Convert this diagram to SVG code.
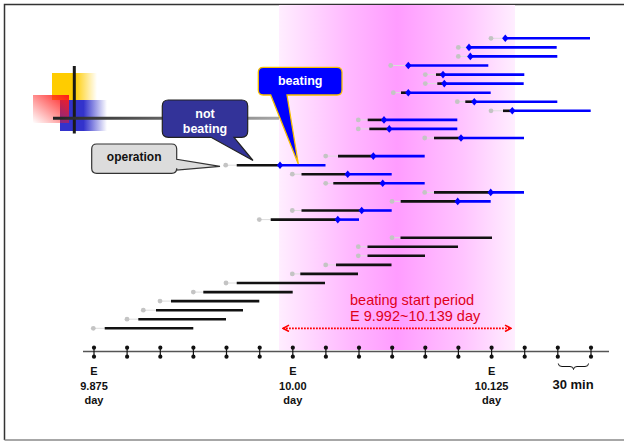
<svg xmlns="http://www.w3.org/2000/svg" xmlns:xlink="http://www.w3.org/1999/xlink" width="624" height="441" viewBox="0 0 624 441">
  <style>
    .lead { stroke: #dcdcdc; stroke-width: 1; fill: none; }
    .pre { stroke: #111; stroke-width: 2.6; fill: none; }
    .post { stroke: #0000ff; stroke-width: 2.6; fill: none; }
    .start { fill: #c4c4c4; }
    .tick { stroke: #111; stroke-width: 1.2; }
    .tickdot { fill: #111; }
    .lbl { font-family: "Liberation Sans", Arial, sans-serif; font-weight: bold; font-size: 11px; fill: #111; text-anchor: middle; }
    .call { font-family: "Liberation Sans", Arial, sans-serif; font-weight: bold; text-anchor: middle; }
    .note { font-family: "Liberation Sans", Arial, sans-serif; font-size: 14.5px; fill: #e0001a; }
  </style>
  <defs>
    <linearGradient id="band" gradientUnits="userSpaceOnUse" x1="279" y1="0" x2="515" y2="0">
      <stop offset="0" stop-color="#ffeeff"/>
      <stop offset="0.3" stop-color="#ffb8ff"/>
      <stop offset="0.5" stop-color="#ff9cff"/>
      <stop offset="0.78" stop-color="#ffc4ff"/>
      <stop offset="1" stop-color="#ffeeff"/>
    </linearGradient>
    <linearGradient id="yel" x1="0" y1="0" x2="1" y2="0">
      <stop offset="0.5" stop-color="#ffcc00"/>
      <stop offset="1" stop-color="#ffcc00" stop-opacity="0"/>
    </linearGradient>
    <linearGradient id="blu" x1="0" y1="0" x2="1" y2="0">
      <stop offset="0.5" stop-color="#3333cc"/>
      <stop offset="1" stop-color="#3333cc" stop-opacity="0"/>
    </linearGradient>
    <linearGradient id="redg" x1="1" y1="0" x2="0" y2="1">
      <stop offset="0" stop-color="#ff1a1a"/>
      <stop offset="1" stop-color="#ff1a1a" stop-opacity="0"/>
    </linearGradient>
    <linearGradient id="bar" gradientUnits="userSpaceOnUse" x1="53" y1="0" x2="279" y2="0">
      <stop offset="0" stop-color="#222"/>
      <stop offset="1" stop-color="#a8a8a8"/>
    </linearGradient>
    <path id="dia" d="M0,-3.8 L3.2,0 L0,3.8 L-3.2,0 Z" fill="#0000ff"/>
    <marker id="chev" viewBox="0 0 8 8" refX="7" refY="4" markerWidth="8" markerHeight="8" markerUnits="userSpaceOnUse" orient="auto-start-reverse">
      <path d="M1,0.8 L7,4 L1,7.2" fill="none" stroke="#ff0000" stroke-width="1.6"/>
    </marker>
  </defs>

  <!-- slide frame -->
  <g id="frame">
    <rect x="0" y="0" width="624" height="441" fill="#fff"/>
    <path d="M4.5,440 V4.5 H624" fill="none" stroke="#333" stroke-width="1.5"/>
    <path d="M4.5,440 H624" fill="none" stroke="#8a8a8a" stroke-width="1.5"/>
  </g>

  <!-- beating start period band -->
  <rect id="band-area" x="279" y="5" width="236" height="345" fill="url(#band)"/>

  <!-- corner ornament -->
  <g id="ornament">
    <rect x="52" y="73" width="45" height="27" fill="url(#yel)"/>
    <rect x="60" y="100" width="47" height="31" fill="url(#blu)"/>
    <rect x="33" y="95" width="36" height="28" fill="url(#redg)"/>
    <line x1="74.3" y1="66" x2="74.3" y2="133.5" stroke="#1a1a1a" stroke-width="3"/>
    <line x1="53" y1="118.3" x2="279" y2="118.3" stroke="url(#bar)" stroke-width="3"/>
  </g>

  <!-- time axis -->
  <g id="axis">
    <line x1="83" y1="351.5" x2="609" y2="351.5" stroke="#555" stroke-width="1.6"/>
    <g id="ticks">
      <g><line class="tick" x1="94" y1="347.7" x2="94" y2="356.7"/><circle class="tickdot" cx="94" cy="347.7" r="2.1"/><circle class="tickdot" cx="94" cy="356.7" r="2.1"/></g>
      <g><line class="tick" x1="127.1" y1="347.7" x2="127.1" y2="356.7"/><circle class="tickdot" cx="127.1" cy="347.7" r="2.1"/><circle class="tickdot" cx="127.1" cy="356.7" r="2.1"/></g>
      <g><line class="tick" x1="160.3" y1="347.7" x2="160.3" y2="356.7"/><circle class="tickdot" cx="160.3" cy="347.7" r="2.1"/><circle class="tickdot" cx="160.3" cy="356.7" r="2.1"/></g>
      <g><line class="tick" x1="193.4" y1="347.7" x2="193.4" y2="356.7"/><circle class="tickdot" cx="193.4" cy="347.7" r="2.1"/><circle class="tickdot" cx="193.4" cy="356.7" r="2.1"/></g>
      <g><line class="tick" x1="226.5" y1="347.7" x2="226.5" y2="356.7"/><circle class="tickdot" cx="226.5" cy="347.7" r="2.1"/><circle class="tickdot" cx="226.5" cy="356.7" r="2.1"/></g>
      <g><line class="tick" x1="259.7" y1="347.7" x2="259.7" y2="356.7"/><circle class="tickdot" cx="259.7" cy="347.7" r="2.1"/><circle class="tickdot" cx="259.7" cy="356.7" r="2.1"/></g>
      <g><line class="tick" x1="292.8" y1="347.7" x2="292.8" y2="356.7"/><circle class="tickdot" cx="292.8" cy="347.7" r="2.1"/><circle class="tickdot" cx="292.8" cy="356.7" r="2.1"/></g>
      <g><line class="tick" x1="325.9" y1="347.7" x2="325.9" y2="356.7"/><circle class="tickdot" cx="325.9" cy="347.7" r="2.1"/><circle class="tickdot" cx="325.9" cy="356.7" r="2.1"/></g>
      <g><line class="tick" x1="359" y1="347.7" x2="359" y2="356.7"/><circle class="tickdot" cx="359" cy="347.7" r="2.1"/><circle class="tickdot" cx="359" cy="356.7" r="2.1"/></g>
      <g><line class="tick" x1="392.2" y1="347.7" x2="392.2" y2="356.7"/><circle class="tickdot" cx="392.2" cy="347.7" r="2.1"/><circle class="tickdot" cx="392.2" cy="356.7" r="2.1"/></g>
      <g><line class="tick" x1="425.3" y1="347.7" x2="425.3" y2="356.7"/><circle class="tickdot" cx="425.3" cy="347.7" r="2.1"/><circle class="tickdot" cx="425.3" cy="356.7" r="2.1"/></g>
      <g><line class="tick" x1="458.4" y1="347.7" x2="458.4" y2="356.7"/><circle class="tickdot" cx="458.4" cy="347.7" r="2.1"/><circle class="tickdot" cx="458.4" cy="356.7" r="2.1"/></g>
      <g><line class="tick" x1="491.6" y1="347.7" x2="491.6" y2="356.7"/><circle class="tickdot" cx="491.6" cy="347.7" r="2.1"/><circle class="tickdot" cx="491.6" cy="356.7" r="2.1"/></g>
      <g><line class="tick" x1="524.7" y1="347.7" x2="524.7" y2="356.7"/><circle class="tickdot" cx="524.7" cy="347.7" r="2.1"/><circle class="tickdot" cx="524.7" cy="356.7" r="2.1"/></g>
      <g><line class="tick" x1="557.8" y1="347.7" x2="557.8" y2="356.7"/><circle class="tickdot" cx="557.8" cy="347.7" r="2.1"/><circle class="tickdot" cx="557.8" cy="356.7" r="2.1"/></g>
      <g><line class="tick" x1="591" y1="347.7" x2="591" y2="356.7"/><circle class="tickdot" cx="591" cy="347.7" r="2.1"/><circle class="tickdot" cx="591" cy="356.7" r="2.1"/></g>
    </g>
    <text class="lbl" x="94" y="375"><tspan x="94">E</tspan><tspan x="94" dy="15">9.875</tspan><tspan x="94" dy="14">day</tspan></text>
    <text class="lbl" x="292.8" y="375"><tspan x="292.8">E</tspan><tspan x="292.8" dy="15">10.00</tspan><tspan x="292.8" dy="14">day</tspan></text>
    <text class="lbl" x="491.6" y="375"><tspan x="491.6">E</tspan><tspan x="491.6" dy="15">10.125</tspan><tspan x="491.6" dy="14">day</tspan></text>
    <path d="M558.3,363.5 Q558.3,366.5 562,366.5 L570,366.5 Q573.5,366.5 573.5,369.5 Q573.5,366.5 577,366.5 L585,366.5 Q588.5,366.5 588.5,363.5" fill="none" stroke="#111" stroke-width="1"/>
    <text class="lbl" x="573" y="389" style="font-size:13px">30 min</text>
  </g>

  <!-- individual records: start dot, not-beating span (black), beating onset (diamond) and beating span (blue) -->
  <g id="records">
    <g id="r01"><line class="lead" x1="491" y1="38.3" x2="505.3" y2="38.3"/><circle class="start" cx="491" cy="38.3" r="2.4"/><line class="post" x1="505.3" y1="38.3" x2="590" y2="38.3"/><use xlink:href="#dia" x="505.3" y="38.3"/></g>
    <g id="r02"><line class="lead" x1="458.3" y1="47.4" x2="469" y2="47.4"/><circle class="start" cx="458.3" cy="47.4" r="2.4"/><line class="post" x1="469" y1="47.4" x2="556.7" y2="47.4"/><use xlink:href="#dia" x="469" y="47.4"/></g>
    <g id="r03"><line class="lead" x1="458.3" y1="56.4" x2="470.3" y2="56.4"/><circle class="start" cx="458.3" cy="56.4" r="2.4"/><line class="post" x1="470.3" y1="56.4" x2="557.3" y2="56.4"/><use xlink:href="#dia" x="470.3" y="56.4"/></g>
    <g id="r04"><line class="lead" x1="390.7" y1="65.5" x2="408.3" y2="65.5"/><circle class="start" cx="390.7" cy="65.5" r="2.4"/><line class="post" x1="408.3" y1="65.5" x2="488.3" y2="65.5"/><use xlink:href="#dia" x="408.3" y="65.5"/></g>
    <g id="r05"><line class="lead" x1="425.3" y1="74.6" x2="436" y2="74.6"/><circle class="start" cx="425.3" cy="74.6" r="2.4"/><line class="pre" x1="436" y1="74.6" x2="443" y2="74.6"/><line class="post" x1="443" y1="74.6" x2="524.3" y2="74.6"/><use xlink:href="#dia" x="443" y="74.6"/></g>
    <g id="r06"><line class="lead" x1="425.3" y1="83.6" x2="437.3" y2="83.6"/><circle class="start" cx="425.3" cy="83.6" r="2.4"/><line class="pre" x1="437.3" y1="83.6" x2="444.3" y2="83.6"/><line class="post" x1="444.3" y1="83.6" x2="523.7" y2="83.6"/><use xlink:href="#dia" x="444.3" y="83.6"/></g>
    <g id="r07"><line class="lead" x1="393.3" y1="92.7" x2="401" y2="92.7"/><circle class="start" cx="393.3" cy="92.7" r="2.4"/><line class="pre" x1="401" y1="92.7" x2="408.3" y2="92.7"/><line class="post" x1="408.3" y1="92.7" x2="490.7" y2="92.7"/><use xlink:href="#dia" x="408.3" y="92.7"/></g>
    <g id="r08"><line class="lead" x1="457.3" y1="101.7" x2="465.3" y2="101.7"/><circle class="start" cx="457.3" cy="101.7" r="2.4"/><line class="pre" x1="465.3" y1="101.7" x2="474.3" y2="101.7"/><line class="post" x1="474.3" y1="101.7" x2="557.3" y2="101.7"/><use xlink:href="#dia" x="474.3" y="101.7"/></g>
    <g id="r09"><line class="lead" x1="491" y1="110.8" x2="503" y2="110.8"/><circle class="start" cx="491" cy="110.8" r="2.4"/><line class="pre" x1="503" y1="110.8" x2="512.3" y2="110.8"/><line class="post" x1="512.3" y1="110.8" x2="590.7" y2="110.8"/><use xlink:href="#dia" x="512.3" y="110.8"/></g>
    <g id="r10"><line class="lead" x1="358.3" y1="119.9" x2="367.7" y2="119.9"/><circle class="start" cx="358.3" cy="119.9" r="2.4"/><line class="pre" x1="367.7" y1="119.9" x2="384" y2="119.9"/><line class="post" x1="384" y1="119.9" x2="457.3" y2="119.9"/><use xlink:href="#dia" x="384" y="119.9"/></g>
    <g id="r11"><line class="lead" x1="358.3" y1="128.9" x2="369.3" y2="128.9"/><circle class="start" cx="358.3" cy="128.9" r="2.4"/><line class="pre" x1="369.3" y1="128.9" x2="389.3" y2="128.9"/><line class="post" x1="389.3" y1="128.9" x2="457.3" y2="128.9"/><use xlink:href="#dia" x="389.3" y="128.9"/></g>
    <g id="r12"><line class="lead" x1="424.7" y1="138" x2="434" y2="138"/><circle class="start" cx="424.7" cy="138" r="2.4"/><line class="pre" x1="434" y1="138" x2="461" y2="138"/><line class="post" x1="461" y1="138" x2="524" y2="138"/><use xlink:href="#dia" x="461" y="138"/></g>
    <g id="r13"><line class="lead" x1="325.7" y1="156.1" x2="338" y2="156.1"/><circle class="start" cx="325.7" cy="156.1" r="2.4"/><line class="pre" x1="338" y1="156.1" x2="373.3" y2="156.1"/><line class="post" x1="373.3" y1="156.1" x2="424.7" y2="156.1"/><use xlink:href="#dia" x="373.3" y="156.1"/></g>
    <g id="r14"><line class="lead" x1="225.7" y1="165.2" x2="236.7" y2="165.2"/><circle class="start" cx="225.7" cy="165.2" r="2.4"/><line class="pre" x1="236.7" y1="165.2" x2="280" y2="165.2"/><line class="post" x1="280" y1="165.2" x2="325.5" y2="165.2"/><use xlink:href="#dia" x="280" y="165.2"/></g>
    <g id="r15"><line class="lead" x1="292.3" y1="174.2" x2="301.5" y2="174.2"/><circle class="start" cx="292.3" cy="174.2" r="2.4"/><line class="pre" x1="301.5" y1="174.2" x2="347.7" y2="174.2"/><line class="post" x1="347.7" y1="174.2" x2="391.7" y2="174.2"/><use xlink:href="#dia" x="347.7" y="174.2"/></g>
    <g id="r16"><line class="lead" x1="325.7" y1="183.3" x2="333.3" y2="183.3"/><circle class="start" cx="325.7" cy="183.3" r="2.4"/><line class="pre" x1="333.3" y1="183.3" x2="382.7" y2="183.3"/><line class="post" x1="382.7" y1="183.3" x2="424.7" y2="183.3"/><use xlink:href="#dia" x="382.7" y="183.3"/></g>
    <g id="r17"><line class="lead" x1="424.7" y1="192.4" x2="434" y2="192.4"/><circle class="start" cx="424.7" cy="192.4" r="2.4"/><line class="pre" x1="434" y1="192.4" x2="490.7" y2="192.4"/><line class="post" x1="490.7" y1="192.4" x2="524" y2="192.4"/><use xlink:href="#dia" x="490.7" y="192.4"/></g>
    <g id="r18"><line class="lead" x1="392" y1="201.4" x2="400.7" y2="201.4"/><circle class="start" cx="392" cy="201.4" r="2.4"/><line class="pre" x1="400.7" y1="201.4" x2="457.7" y2="201.4"/><line class="post" x1="457.7" y1="201.4" x2="490.7" y2="201.4"/><use xlink:href="#dia" x="457.7" y="201.4"/></g>
    <g id="r19"><line class="lead" x1="292.3" y1="210.5" x2="301.5" y2="210.5"/><circle class="start" cx="292.3" cy="210.5" r="2.4"/><line class="pre" x1="301.5" y1="210.5" x2="361.7" y2="210.5"/><line class="post" x1="361.7" y1="210.5" x2="391.7" y2="210.5"/><use xlink:href="#dia" x="361.7" y="210.5"/></g>
    <g id="r20"><line class="lead" x1="259.3" y1="219.6" x2="270.7" y2="219.6"/><circle class="start" cx="259.3" cy="219.6" r="2.4"/><line class="pre" x1="270.7" y1="219.6" x2="337.8" y2="219.6"/><line class="post" x1="337.8" y1="219.6" x2="359" y2="219.6"/><use xlink:href="#dia" x="337.8" y="219.6"/></g>
    <g id="r21"><line class="lead" x1="392" y1="237.7" x2="400.5" y2="237.7"/><circle class="start" cx="392" cy="237.7" r="2.4"/><line class="pre" x1="400.5" y1="237.7" x2="492" y2="237.7"/></g>
    <g id="r22"><line class="lead" x1="358.3" y1="246.7" x2="367.5" y2="246.7"/><circle class="start" cx="358.3" cy="246.7" r="2.4"/><line class="pre" x1="367.5" y1="246.7" x2="458" y2="246.7"/></g>
    <g id="r23"><line class="lead" x1="358.3" y1="255.8" x2="367.5" y2="255.8"/><circle class="start" cx="358.3" cy="255.8" r="2.4"/><line class="pre" x1="367.5" y1="255.8" x2="425" y2="255.8"/></g>
    <g id="r24"><line class="lead" x1="325.7" y1="264.9" x2="336" y2="264.9"/><circle class="start" cx="325.7" cy="264.9" r="2.4"/><line class="pre" x1="336" y1="264.9" x2="391.5" y2="264.9"/></g>
    <g id="r25"><line class="lead" x1="292.3" y1="273.9" x2="300.3" y2="273.9"/><circle class="start" cx="292.3" cy="273.9" r="2.4"/><line class="pre" x1="300.3" y1="273.9" x2="358" y2="273.9"/></g>
    <g id="r26"><line class="lead" x1="226" y1="283" x2="236.7" y2="283"/><circle class="start" cx="226" cy="283" r="2.4"/><line class="pre" x1="236.7" y1="283" x2="325" y2="283"/></g>
    <g id="r27"><line class="lead" x1="193.3" y1="292.1" x2="203.3" y2="292.1"/><circle class="start" cx="193.3" cy="292.1" r="2.4"/><line class="pre" x1="203.3" y1="292.1" x2="292.7" y2="292.1"/></g>
    <g id="r28"><line class="lead" x1="160" y1="301.1" x2="171" y2="301.1"/><circle class="start" cx="160" cy="301.1" r="2.4"/><line class="pre" x1="171" y1="301.1" x2="259.3" y2="301.1"/></g>
    <g id="r29"><line class="lead" x1="143.3" y1="310.2" x2="156" y2="310.2"/><circle class="start" cx="143.3" cy="310.2" r="2.4"/><line class="pre" x1="156" y1="310.2" x2="243" y2="310.2"/></g>
    <g id="r30"><line class="lead" x1="127" y1="319.2" x2="138.3" y2="319.2"/><circle class="start" cx="127" cy="319.2" r="2.4"/><line class="pre" x1="138.3" y1="319.2" x2="226" y2="319.2"/></g>
    <g id="r31"><line class="lead" x1="93.3" y1="328.3" x2="104.7" y2="328.3"/><circle class="start" cx="93.3" cy="328.3" r="2.4"/><line class="pre" x1="104.7" y1="328.3" x2="193.3" y2="328.3"/></g>
  </g>

  <!-- period annotation -->
  <g id="period">
    <text class="note" x="350" y="305">beating start period</text>
    <text class="note" x="350" y="321">E 9.992~10.139 day</text>
  </g>
  <g id="connectors">
    <line x1="283" y1="328.3" x2="511" y2="328.3" stroke="#ff0000" stroke-width="1.8" stroke-dasharray="1.8 1.2" marker-start="url(#chev)" marker-end="url(#chev)"/>
  </g>

  <!-- callouts -->
  <g id="callout-operation">
    <path d="M96.7,144 H171.7 Q176.7,144 176.7,149 V159.3 L220,166.3 L176.7,170 V168.3 Q176.7,173.3 171.7,173.3 H96.7 Q91.7,173.3 91.7,168.3 V149 Q91.7,144 96.7,144 Z" fill="#dcdcdc" stroke="#333" stroke-width="1.2"/>
    <text class="call" x="134.2" y="161" style="font-size:12px" fill="#111">operation</text>
  </g>
  <g id="callout-not-beating">
    <path d="M168.3,100 H241.7 Q247.7,100 247.7,106 V131.3 Q247.7,137.3 241.7,137.3 H234 L253,160.5 L211,137.3 H168.3 Q162.3,137.3 162.3,131.3 V106 Q162.3,100 168.3,100 Z" fill="#333399" stroke="#222" stroke-width="1.2"/>
    <text class="call" x="205" y="118" style="font-size:12.5px" fill="#fff">not</text>
    <text class="call" x="205" y="133" style="font-size:12.5px" fill="#fff">beating</text>
  </g>
  <g id="callout-beating">
    <path d="M263.3,67.3 H337 Q342,67.3 342,72.3 V90 Q342,95 337,95 H287 L298.3,164 L270.7,95 H263.3 Q258.3,95 258.3,90 V72.3 Q258.3,67.3 263.3,67.3 Z" fill="#0000ff" stroke="#f5c000" stroke-width="1.3"/>
    <text class="call" x="300.2" y="84.5" style="font-size:12.5px" fill="#fff">beating</text>
  </g>
</svg>
